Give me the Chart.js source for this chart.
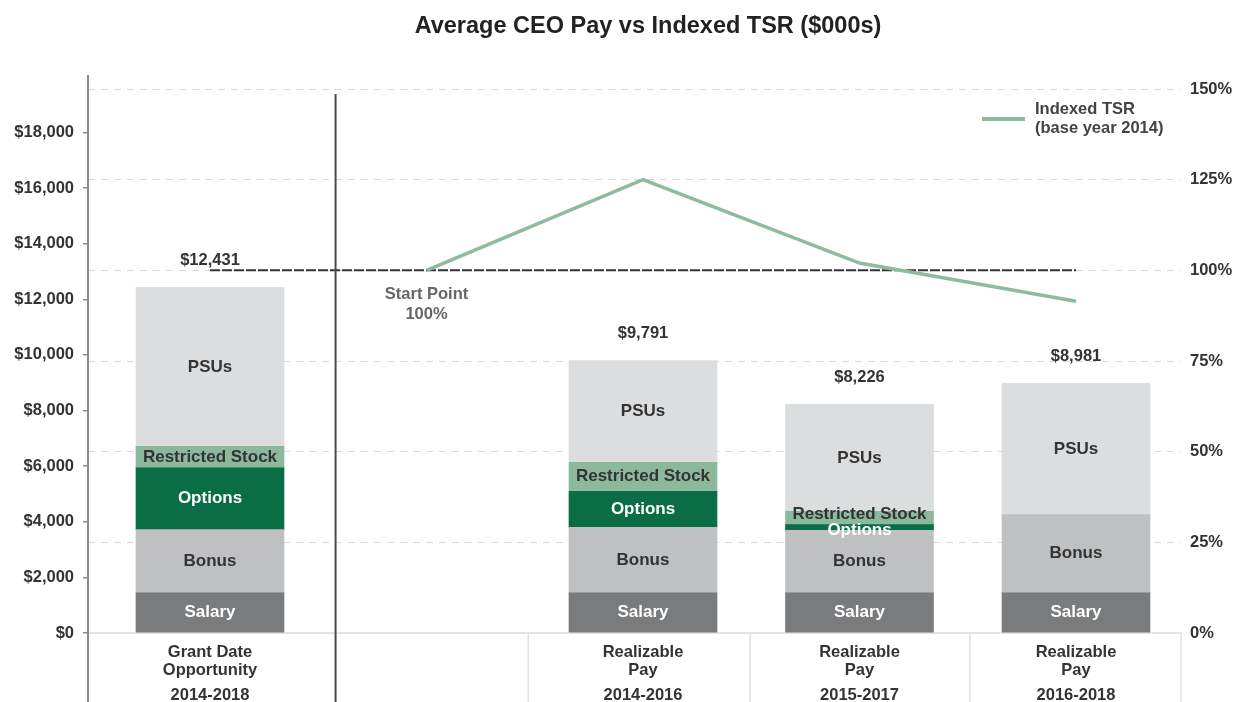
<!DOCTYPE html>
<html>
<head>
<meta charset="utf-8">
<script src="https://cdn.jsdelivr.net/npm/chart.js@4.4.1/dist/chart.umd.min.js"></script>
<style>
  html, body { margin: 0; padding: 0; background: #fff; }
</style>
</head>
<body>
<canvas id="myChart" width="1236" height="702"></canvas>
<script>
// data block
const xPos = [0, 1, 2, 3, 4];
const nameLabels = [['Grant Date', 'Opportunity'], '', ['Realizable', 'Pay'], ['Realizable', 'Pay'], ['Realizable', 'Pay']];
const yearLabels = ['2014-2018', '', '2014-2016', '2015-2017', '2016-2018'];

const salary     = [1440, null, 1440, 1440, 1440];
const bonus      = [2275, null, 2360, 2250, 2815];
const options    = [2220, null, 1295,  205,    0];
const restricted = [ 775, null, 1045,  478,    0];
const psus       = [5720, null, 3655, 3852, 4726];
const totals     = [12431, null, 9791, 8226, 8981];

const tsr      = [null, 100, 125, 102, 91.5];
const baseline = [100, 100, 100, 100, 100];

const payTicks = [0, 2000, 4000, 6000, 8000, 10000, 12000, 14000, 16000, 18000];
const tsrTicks = [0, 25, 50, 75, 100, 125, 150];

const FONT = 'Liberation Sans, Arial, Helvetica, sans-serif';
Chart.defaults.font.family = FONT;

// zero segments are left out so no hairline is drawn
const points = arr => xPos.map((x, i) => ({ x: x, y: arr[i] })).filter(p => p.y !== null && p.y !== 0);

const barSet = (label, arr, color, textColor) => ({
    type: 'bar',
    label: label,
    data: points(arr),
    backgroundColor: color,
    borderWidth: 0,
    barThickness: 148,
    yAxisID: 'y',
    xAxisID: 'x',
    order: 2,
    textColor: textColor
});

const data = {
    datasets: [
        barSet('Salary', salary, '#7a7b7d', '#ffffff'),
        barSet('Bonus', bonus, '#bfc0c2', '#333333'),
        barSet('Options', options, '#0b6d46', '#ffffff'),
        barSet('Restricted Stock', restricted, '#8cb89b', '#333333'),
        barSet('PSUs', psus, '#dcdddf', '#333333'),
        {
            type: 'line',
            label: 'baseline',
            data: points(baseline),
            borderColor: '#333333',
            borderWidth: 2,
            borderDash: [10, 2],
            pointRadius: 0,
            yAxisID: 'y1',
            xAxisID: 'x',
            order: 1
        },
        {
            type: 'line',
            label: 'Indexed TSR',
            data: points(tsr),
            borderColor: '#8dbb9e',
            borderWidth: 3.5,
            pointRadius: 0,
            tension: 0,
            yAxisID: 'y1',
            xAxisID: 'x',
            order: 0
        }
    ]
};

// overlay block: title, separators, segment labels, totals, notes, legend
const overlay = {
    id: 'overlay',
    afterDatasetsDraw(chart) {
        const { ctx, chartArea: { top, bottom, left, right }, scales: { x, y, y1 } } = chart;
        const H = chart.height;
        ctx.save();

        const line = (x0, y0, x1, y1_) => {
            ctx.beginPath();
            ctx.moveTo(x0, y0);
            ctx.lineTo(x1, y1_);
            ctx.stroke();
        };

        // title
        ctx.font = 'bold 23.5px ' + FONT;
        ctx.fillStyle = '#222';
        ctx.textAlign = 'center';
        ctx.textBaseline = 'middle';
        ctx.fillText('Average CEO Pay vs Indexed TSR ($000s)', 648, 27);

        // category separators under the axis
        ctx.strokeStyle = '#e0e0e0';
        ctx.lineWidth = 1.5;
        [1.47, 2.495, 3.51].forEach(v => {
            const px = x.getPixelForValue(v);
            line(px, bottom, px, H);
        });
        line(right, bottom, right, H);

        // left axis line
        ctx.strokeStyle = '#8a8a8a';
        ctx.lineWidth = 2;
        line(left, top - 14, left, H);

        // split between grant and realizable
        ctx.strokeStyle = '#4a4a4a';
        const sx = x.getPixelForValue(0.58);
        line(sx, top + 5, sx, H);

        // segment labels
        const groups = {};
        chart.data.datasets.forEach((ds, di) => {
            if (ds.type !== 'bar') return;
            const meta = chart.getDatasetMeta(di);
            meta.data.forEach((bar, j) => {
                const v = ds.data[j].y;
                if (!v) return;
                const key = ds.data[j].x;
                (groups[key] = groups[key] || []).push({
                    text: ds.label,
                    color: ds.textColor,
                    x: bar.x,
                    cy: (bar.y + bar.base) / 2
                });
            });
        });
        ctx.font = 'bold 17px ' + FONT;
        Object.values(groups).forEach(list => {
            for (let k = 1; k < list.length; k++) {
                const gap = list[k - 1].cy - list[k].cy;
                if (gap < 16) {
                    const s = (16 - gap) / 2;
                    list[k - 1].cy += s;
                    list[k].cy -= s;
                }
            }
            list.forEach(l => {
                ctx.fillStyle = l.color;
                ctx.fillText(l.text, l.x, l.cy);
            });
        });

        // totals above bars
        ctx.font = 'bold 16.5px ' + FONT;
        ctx.fillStyle = '#333';
        totals.forEach((t, i) => {
            if (t === null) return;
            ctx.fillText('$' + t.toLocaleString('en-US'), x.getPixelForValue(xPos[i]), y.getPixelForValue(t) - 27);
        });

        // start point note
        const spx = x.getPixelForValue(1);
        const spy = y1.getPixelForValue(tsr[1]);
        ctx.fillStyle = '#666';
        ctx.fillText('Start Point', spx, spy + 24);
        ctx.fillText(tsr[1] + '%', spx, spy + 44);

        // legend
        ctx.strokeStyle = '#8dbb9e';
        ctx.lineWidth = 4;
        line(right - 199, top + 30, right - 156, top + 30);
        ctx.fillStyle = '#444';
        ctx.textAlign = 'left';
        ctx.fillText('Indexed TSR', right - 146, top + 20);
        ctx.fillText('(base year 2014)', right - 146, top + 39);

        ctx.restore();
    }
};

const tickFont = { size: 16.5, weight: 'bold' };

// config block
const config = {
    type: 'bar',
    data: data,
    options: {
        responsive: false,
        animation: false,
        layout: { padding: { left: 0, right: 0, top: 89, bottom: 0 } },
        plugins: {
            legend: { display: false },
            tooltip: { enabled: false },
            title: { display: false }
        },
        scales: {
            x: {
                type: 'linear',
                position: 'bottom',
                stacked: true,
                offset: false,
                min: -0.5635,
                max: 4.485,
                weight: 0,
                afterBuildTicks: s => { s.ticks = xPos.map(v => ({ value: v })); },
                afterFit: s => { s.height = 45; },
                grid: { display: false, drawTicks: false },
                border: { display: true, color: '#e4e4e4', width: 2 },
                ticks: {
                    autoSkip: false,
                    maxRotation: 0,
                    padding: 11,
                    color: '#333',
                    font: { size: 16.5, weight: 'bold', lineHeight: 1.06 },
                    callback: v => nameLabels[v]
                }
            },
            xYears: {
                type: 'linear',
                axis: 'x',
                position: 'bottom',
                offset: false,
                min: -0.5635,
                max: 4.485,
                weight: 1,
                afterBuildTicks: s => { s.ticks = xPos.map(v => ({ value: v })); },
                afterFit: s => { s.height = 24; },
                grid: { display: false, drawTicks: false },
                border: { display: false },
                ticks: {
                    autoSkip: false,
                    maxRotation: 0,
                    padding: 8,
                    color: '#333',
                    font: tickFont,
                    callback: v => yearLabels[v]
                }
            },
            y: {
                position: 'left',
                stacked: true,
                min: 0,
                max: 19560,
                afterBuildTicks: s => { s.ticks = payTicks.map(v => ({ value: v })); },
                afterFit: s => { s.width = 88; },
                grid: { drawOnChartArea: false, drawTicks: true, tickLength: 5, color: '#8a8a8a', lineWidth: 1.5 },
                border: { display: false },
                ticks: {
                    padding: 9,
                    color: '#333',
                    font: tickFont,
                    callback: v => '$' + v.toLocaleString('en-US')
                }
            },
            y1: {
                position: 'right',
                min: 0,
                max: 150,
                afterBuildTicks: s => { s.ticks = tsrTicks.map(v => ({ value: v })); },
                afterFit: s => { s.width = 55; },
                grid: {
                    drawTicks: false,
                    color: c => (c.tick && c.tick.value === 0) ? 'rgba(0,0,0,0)' : '#d9d9d9',
                    lineWidth: 1
                },
                border: { display: false, dash: [7, 6] },
                ticks: {
                    padding: 9,
                    color: '#333',
                    font: tickFont,
                    callback: v => v + '%'
                }
            }
        }
    },
    plugins: [overlay]
};

const ctx = document.getElementById('myChart');
const myChart = new Chart(ctx, config);
</script>
</body>
</html>
